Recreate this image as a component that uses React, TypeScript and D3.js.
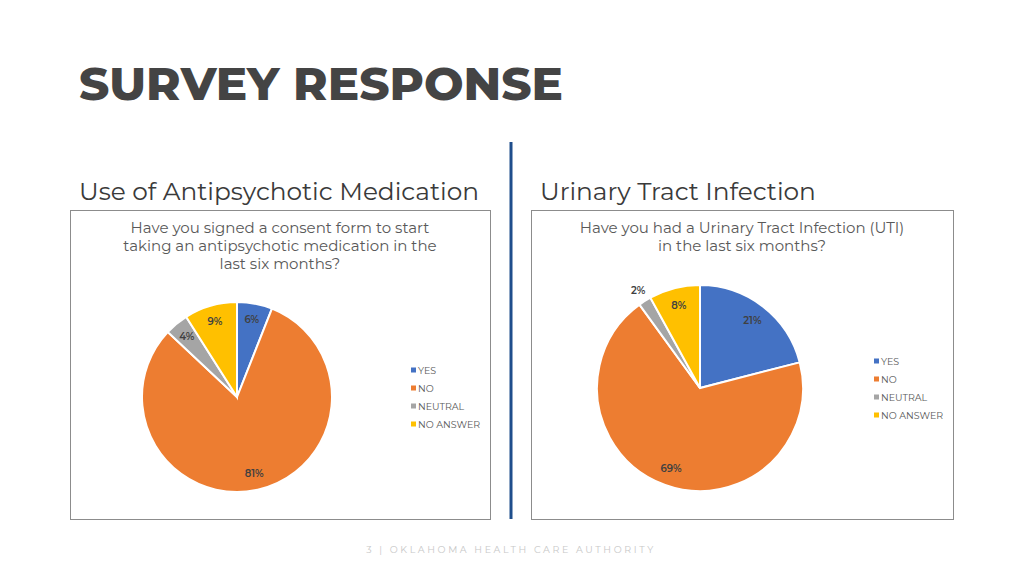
import React from "react";
import * as d3 from "d3";

const categories = ["YES", "NO", "NEUTRAL", "NO ANSWER"];
const colors = ["#4472C4", "#ED7D31", "#A5A5A5", "#FFC000"];
const antipsychoticValues = [6, 81, 4, 9];
const utiValues = [21, 69, 2, 8];

const FONT = "Montserrat, 'Open Sans', Lato, sans-serif";

type PieProps = {
  values: number[];
  cx: number;
  cy: number;
  r: number;
  legendX: number;
  legendY: number;
};

function Pie({ values, cx, cy, r, legendX, legendY }: PieProps) {
  const pie = d3.pie<number>().sort(null).value((d) => d);
  const arcs = pie(values);
  const arc = d3.arc<d3.PieArcDatum<number>>().innerRadius(0).outerRadius(r);
  const labelArc = d3.arc<d3.PieArcDatum<number>>().innerRadius(r * 0.83).outerRadius(r * 0.83);
  const outArc = d3.arc<d3.PieArcDatum<number>>().innerRadius(r * 1.12).outerRadius(r * 1.12);
  const ly = d3.scaleBand<string>().domain(categories).range([legendY, legendY + 72]);
  return (
    <g>
      <g transform={`translate(${cx},${cy})`}>
        {arcs.map((a, i) => (
          <path key={i} d={arc(a) || ""} fill={colors[i]} stroke="#fff" strokeWidth={2} />
        ))}
        {arcs.map((a, i) => {
          const [x, y] = (a.data < 3 ? outArc : labelArc).centroid(a);
          return (
            <text key={i} x={x} y={y} textAnchor="middle" dominantBaseline="central"
              fontSize={10} fontWeight={600} fill="#404040" fontFamily={FONT}>
              {a.data}%
            </text>
          );
        })}
      </g>
      {categories.map((c, i) => (
        <g key={c} transform={`translate(${legendX},${(ly(c) || 0) + ly.bandwidth() / 2})`}>
          <rect x={-7} y={-2.5} width={5} height={5} fill={colors[i]} />
          <text x={0} y={0} dominantBaseline="central" fontSize={9.5} fill="#595959" fontFamily={FONT}>
            {c}
          </text>
        </g>
      ))}
    </g>
  );
}

export default function App() {
  return (
    <svg width={1024} height={576} style={{ position: "absolute", left: 0, top: 0, background: "#fff" }}>
      <rect width={1024} height={576} fill="#fff" />
      <text x={79} y={100} fontSize={46} fontWeight={800} fill="#444" fontFamily={FONT}
        textLength={484} lengthAdjust="spacingAndGlyphs">SURVEY RESPONSE</text>

      <line x1={511} x2={511} y1={142} y2={519} stroke="#1F4E8C" strokeWidth={3} />

      <text x={79} y={200} fontSize={24.8} fill="#3a3a3a" fontFamily={FONT}>Use of Antipsychotic Medication</text>
      <text x={540} y={200} fontSize={24.8} fill="#3a3a3a" fontFamily={FONT}>Urinary Tract Infection</text>

      <rect x={70.5} y={210.5} width={420} height={309} fill="#fff" stroke="#8c8c8c" strokeWidth={1} />
      <rect x={531.5} y={210.5} width={422} height={309} fill="#fff" stroke="#8c8c8c" strokeWidth={1} />

      <g fontFamily={FONT} fontSize={15} fill="#595959" textAnchor="middle">
        <text x={280} y={233}>Have you signed a consent form to start</text>
        <text x={280} y={251}>taking an antipsychotic medication in the</text>
        <text x={280} y={269}>last six months?</text>
        <text x={742} y={233}>Have you had a Urinary Tract Infection (UTI)</text>
        <text x={742} y={251}>in the last six months?</text>
      </g>

      <Pie values={antipsychoticValues} cx={237} cy={397} r={95} legendX={418} legendY={361} />
      <Pie values={utiValues} cx={700} cy={388} r={103} legendX={881} legendY={352} />

      <text x={511} y={553} textAnchor="middle" fontSize={9.5} letterSpacing={2.6} fill="#c8c8c8" fontFamily={FONT}>
        3 | OKLAHOMA HEALTH CARE AUTHORITY
      </text>
    </svg>
  );
}
